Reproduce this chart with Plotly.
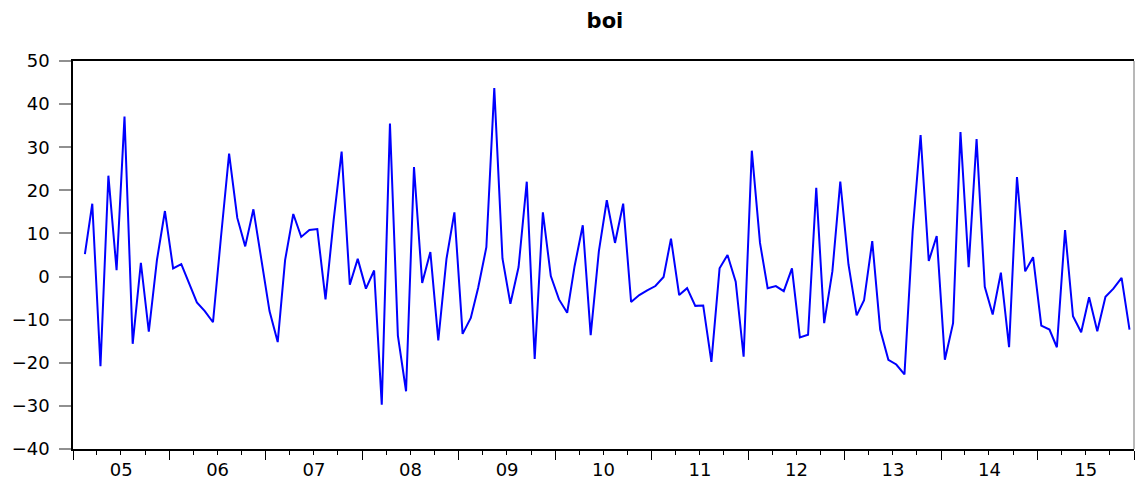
import pandas as pd
import plotly.graph_objects as go

# Monthly series "boi", Feb 2005 .. Dec 2015 (131 observations)
start_month = "2005-02-01"
boi = [
    5.2, 16.9, -20.8, 23.4, 1.5, 37.1, -15.6, 3.2, -12.8, 3.9, 15.2,
    1.9, 2.9, -1.5, -6.0, -8.0, -10.6, 9.0, 28.5, 13.6, 7.0, 15.6, 3.8,
    -8.0, -15.2, 3.8, 14.5, 9.2, 10.8, 11.0, -5.3, 13.2, 29.0, -1.9, 4.1,
    -2.8, 1.4, -29.7, 35.5, -13.7, -26.6, 25.4, -1.5, 5.7, -14.8, 4.1, 14.9,
    -13.3, -9.6, -2.6, 6.8, 43.7, 4.2, -6.3, 2.2, 22.0, -19.1, 14.9, 0.1,
    -5.3, -8.4, 2.4, 11.9, -13.6, 5.9, 17.7, 7.8, 16.9, -5.9, -4.3, -3.2,
    -2.2, -0.1, 8.8, -4.3, -2.7, -6.8, -6.7, -19.8, 1.9, 5.0, -1.2, -18.6,
    29.2, 7.8, -2.7, -2.2, -3.4, 1.9, -14.1, -13.5, 20.6, -10.8, 1.2, 22.0,
    2.8, -9.0, -5.5, 8.2, -12.3, -19.3, -20.4, -22.7, 10.5, 32.8, 3.6, 9.4,
    -19.3, -10.8, 33.5, 2.2, 31.9, -2.4, -8.8, 0.9, -16.4, 23.1, 1.2, 4.5,
    -11.4, -12.3, -16.4, 10.8, -9.2, -12.9, -4.8, -12.7, -4.7, -2.8, -0.3,
    -12.3,
]
y_ticks = [-40, -30, -20, -10, 0, 10, 20, 30, 40, 50]
title_text = "boi"

# observations drawn at the middle of each month
dates = pd.date_range(start_month, periods=len(boi), freq="MS") + pd.Timedelta(days=14)

fig = go.Figure()
fig.add_trace(go.Scatter(
    x=dates, y=boi, mode="lines",
    line=dict(color="#0000FF", width=2),
    showlegend=False, hoverinfo="x+y",
))

font_family = "DejaVu Sans, Liberation Sans, Arial, sans-serif"

fig.update_layout(
    width=1135, height=482,
    margin=dict(l=73, r=1, t=61, b=33),
    paper_bgcolor="white", plot_bgcolor="white",
    title=dict(text="<b>" + title_text + "</b>", x=0.533, xanchor="center",
               y=0.958, yanchor="middle",
               font=dict(family=font_family, size=21, color="black")),
    font=dict(family=font_family, size=17, color="black"),
)

fig.update_xaxes(
    type="date",
    range=["2005-01-01", "2016-01-01"],
    dtick="M12", tick0="2005-01-01",
    tickformat="%y", ticklabelmode="period",
    ticks="outside", ticklen=9, tickwidth=1, tickcolor="black",
    minor=dict(dtick="M3", ticks="outside", ticklen=4, tickcolor="black", tickwidth=1),
    showline=True, linecolor="black", linewidth=1.5, mirror=True,
    showgrid=False, zeroline=False, automargin=False,
    tickfont=dict(family=font_family, size=18, color="black"),
    ticklabelstandoff=-5,
)

fig.update_yaxes(
    range=[-40, 50], tickvals=y_ticks,
    ticks="outside", ticklen=12, tickwidth=1.5, tickcolor="#909090",
    showline=True, linecolor="black", linewidth=1.5,
    showgrid=False, zeroline=False, automargin=False,
    tickfont=dict(family=font_family, size=18, color="black"),
    ticklabelstandoff=6,
)

# light right-hand frame edge
fig.add_shape(type="line", xref="paper", yref="paper", x0=1, x1=1, y0=0, y1=1,
              line=dict(color="#A0A0A0", width=1.5))

fig.write_html(
    "out.html",
    config={"displayModeBar": False},
    post_script="document.body.style.margin='0';document.body.style.overflow='hidden';",
)
